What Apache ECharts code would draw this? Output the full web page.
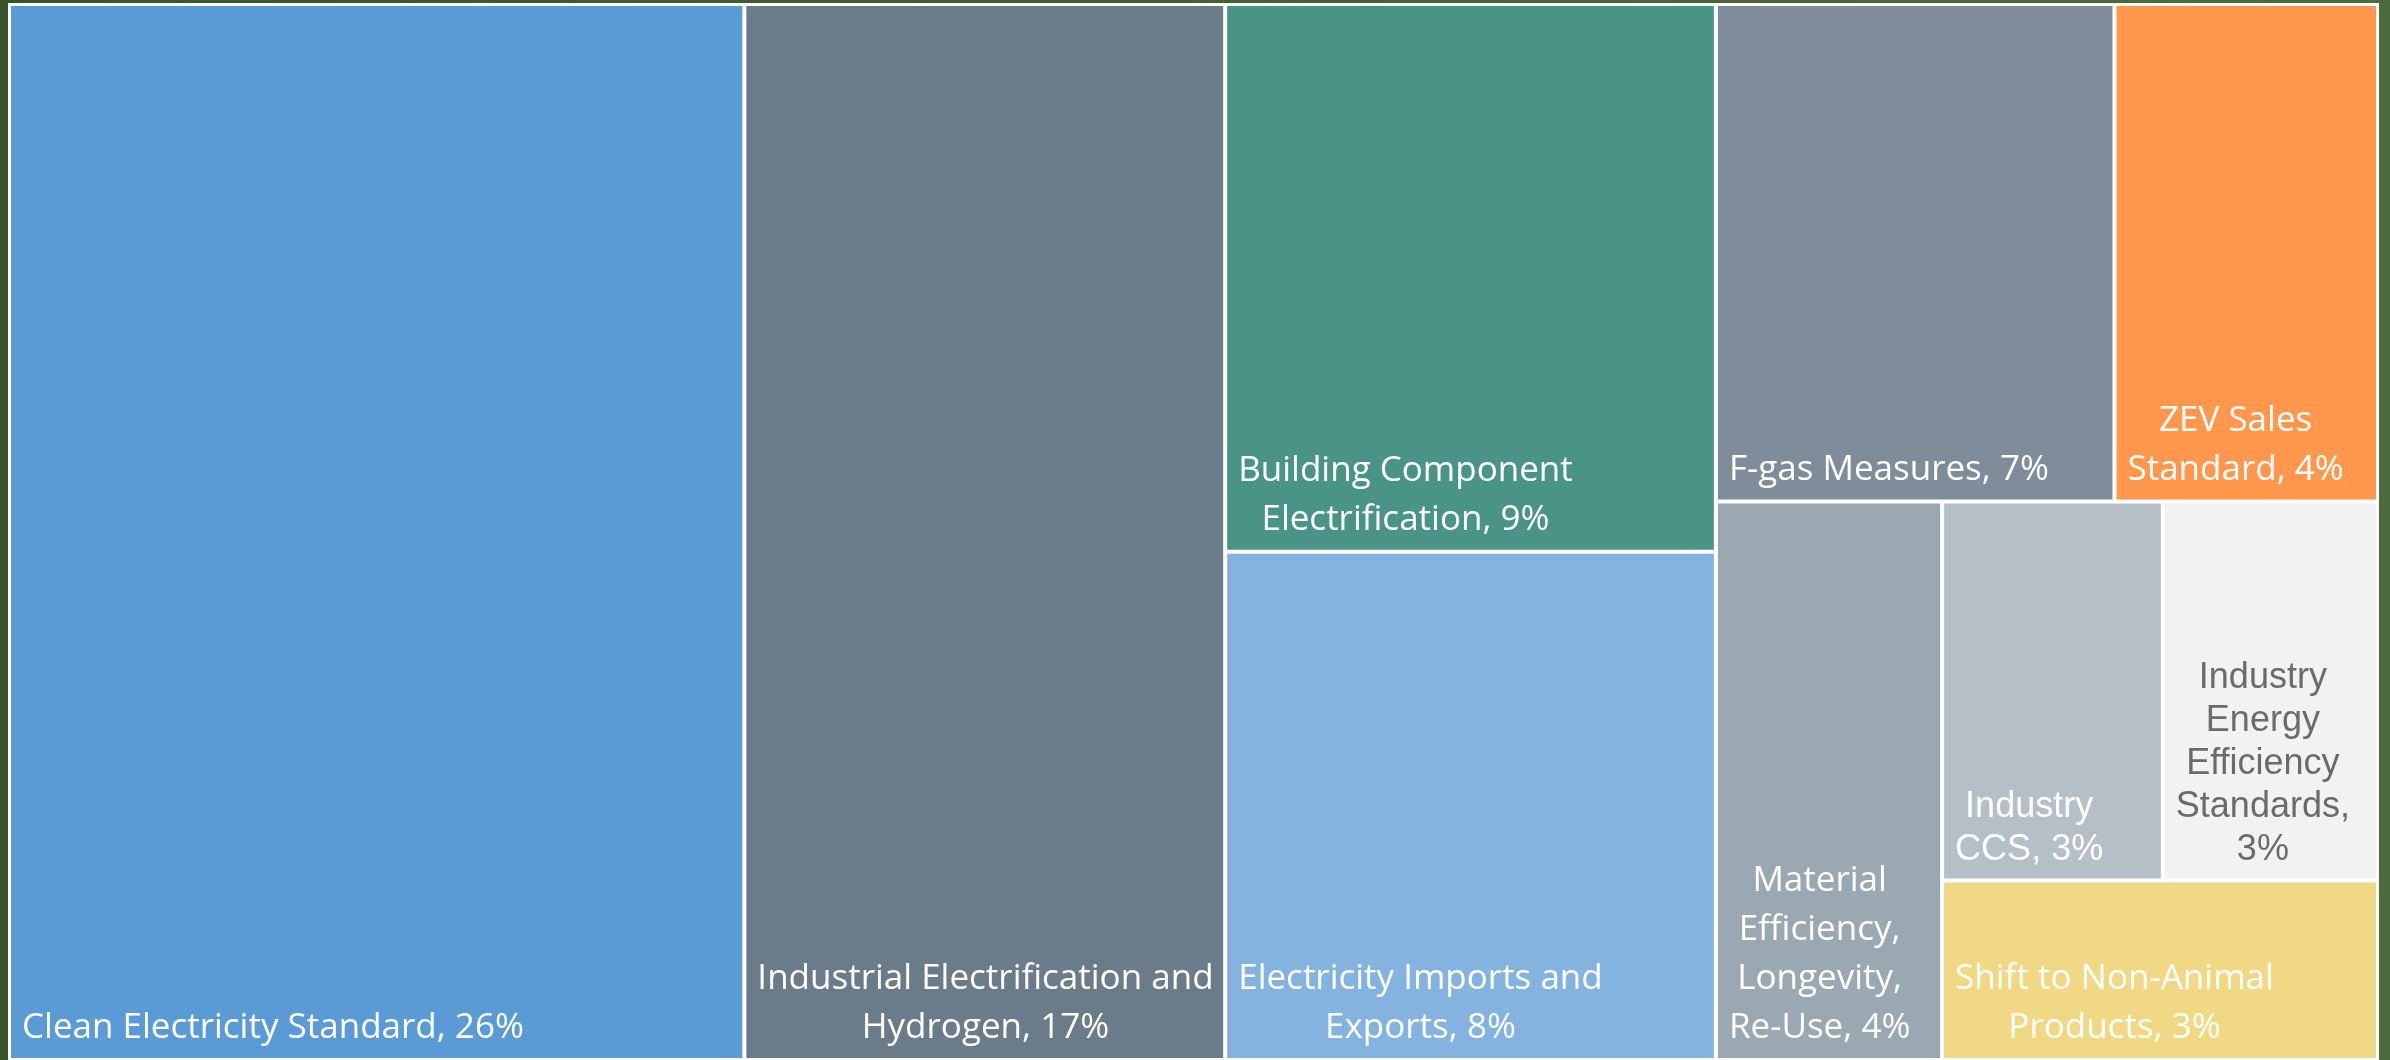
<!DOCTYPE html>
<html>
<head>
<meta charset="utf-8">
<script src="https://cdn.jsdelivr.net/npm/echarts@6/dist/echarts.min.js"></script>
<style>
  html, body { margin: 0; padding: 0; background: #3e5a2e; }
  #chart {
    width: 2390px; height: 1060px;
    background: linear-gradient(90deg, #3a5429 0%, #425f33 45%, #4d6c3d 100%);
  }
</style>
</head>
<body>
<div id="chart"></div>
<script>
// Emission-reduction measures and their share of the total
const names = [
  'Clean Electricity Standard',
  'Industrial Electrification and\nHydrogen',
  'Building Component\nElectrification',
  'Electricity Imports and\nExports',
  'F-gas Measures',
  'ZEV Sales\nStandard',
  'Material\nEfficiency,\nLongevity,\nRe-Use',
  'Industry\nCCS',
  'Industry\nEnergy\nEfficiency\nStandards',
  'Shift to Non-Animal\nProducts'
];
const shares = [26.0, 17.0, 9.0, 8.35, 6.64, 4.39, 4.23, 2.80, 2.73, 2.62];
const colors = ['#5B9BD5', '#6A7B8A', '#4A9487', '#84B3DF', '#7F8D9A',
                '#FF974D', '#9AA8B1', '#B5BFC8', '#F2F2F2', '#F1D884'];
const textColors = ['#ffffff', '#ffffff', '#ffffff', '#ffffff', '#ffffff',
                    '#ffffff', '#ffffff', '#ffffff', '#6B6B6B', '#ffffff'];
const pctOnOwnLine = [false, false, false, false, false, false, false, false, true, false];
const sansLabel = [false, false, false, false, false, false, false, true, true, false];

// Grouping of the tiles: every pair splits its box into two parts
const nesting = [0, [1, [[2, 3], [[4, 5], [6, [[7, 8], 9]]]]]];

const ctx = document.createElement('canvas').getContext('2d');
function textWidth(s, font) { ctx.font = font; return ctx.measureText(s).width; }

function labelFont(i) {
  return sansLabel[i]
    ? { family: 'Liberation Sans', size: 36, lineHeight: 43, lift: 7 }
    : { family: 'Open Sans', size: 35, lineHeight: 49, lift: 5 };
}

// Lines of a tile label are centred on each other; the block sits
// at the lower left corner of the tile.
function leaf(i) {
  const f = labelFont(i);
  const pct = Math.round(shares[i]) + '%';
  const lines = (names[i] + (pctOnOwnLine[i] ? ',\n' : ', ') + pct).split('\n');
  const fontStr = f.size + 'px "' + f.family + '"';
  const maxW = Math.max.apply(null, lines.map(s => textWidth(s, fontStr)));
  return {
    name: names[i].replace(/\n/g, ' '),
    value: shares[i],
    labelText: lines.join('\n'),
    itemStyle: { color: colors[i] },
    label: {
      align: 'center',
      offset: [11 + maxW / 2, -f.lift],
      fontFamily: f.family,
      fontSize: f.size,
      lineHeight: f.lineHeight,
      color: textColors[i]
    }
  };
}

function build(n) {
  if (typeof n === 'number') return leaf(n);
  return { name: '', children: n.map(build) };
}

const chart = echarts.init(document.getElementById('chart'));
chart.setOption({
  animation: false,
  series: [{
    type: 'treemap',
    left: 8, top: 3, width: 2371, height: 1058,
    roam: false,
    nodeClick: false,
    silent: true,
    sort: false,
    squareRatio: 0.01,
    breadcrumb: { show: false },
    itemStyle: { borderWidth: 0, gapWidth: 4, borderColor: '#ffffff' },
    levels: [{ itemStyle: { borderWidth: 3, gapWidth: 4, borderColor: '#ffffff' } }],
    label: {
      show: true,
      position: 'insideBottomLeft',
      distance: 0,
      padding: 0,
      overflow: 'none',
      formatter: p => (p.data && p.data.labelText) || ''
    },
    upperLabel: { show: false },
    data: build(nesting).children
  }]
});
</script>
</body>
</html>
